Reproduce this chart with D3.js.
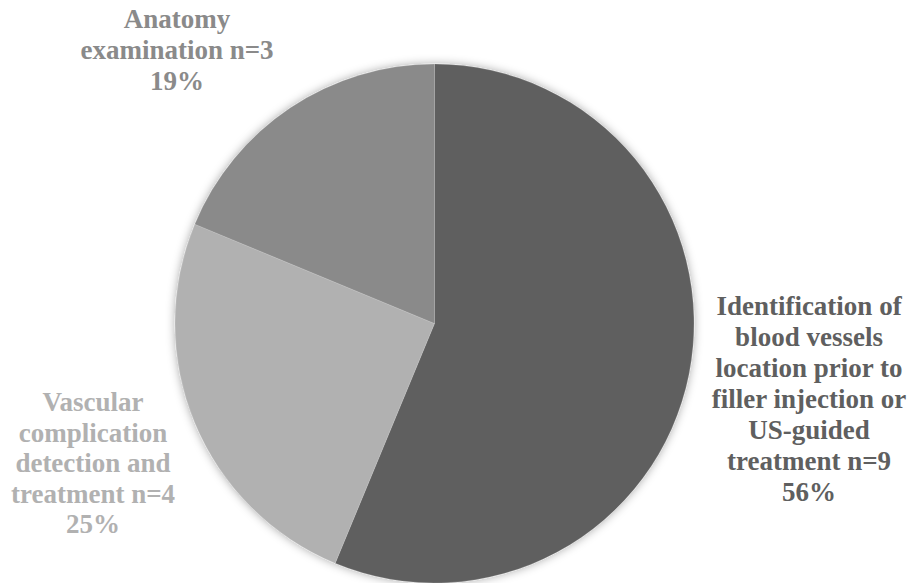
<!DOCTYPE html>
<html>
<head>
<meta charset="utf-8">
<script src="https://cdn.jsdelivr.net/npm/d3@7"></script>
<style>
  html, body { margin: 0; padding: 0; background: #ffffff; }
  svg { display: block; }
  .lbl { font-family: "Times New Roman", "Liberation Serif", Tinos, "DejaVu Serif", serif; font-weight: 700; }
</style>
</head>
<body>
<svg id="chart" width="909" height="583"></svg>
<script>
// Uses of ultrasound, counts per category
const categories = [
  "Identification of blood vessels location prior to filler injection or US-guided treatment",
  "Vascular complication detection and treatment",
  "Anatomy examination"
];
const counts = [9, 4, 3];
const percentLabels = ["56%", "25%", "19%"];
const labelLines = [
  ["Identification of", "blood vessels", "location prior to", "filler injection or", "US-guided", "treatment n=9", "56%"],
  ["Vascular", "complication", "detection and", "treatment n=4", "25%"],
  ["Anatomy", "examination n=3", "19%"]
];
const sliceColors = ["#5f5f5f", "#b1b1b1", "#8a8a8a"];

const width = 909, height = 583;
const cx = 434.5, cy = 323.5, radius = 259.5;

const svg = d3.select("#chart");

// soft glow round the pie
const defs = svg.append("defs");
const f = defs.append("filter").attr("id", "glow")
  .attr("x", "-20%").attr("y", "-20%").attr("width", "140%").attr("height", "140%");
f.append("feGaussianBlur").attr("in", "SourceAlpha").attr("stdDeviation", 5).attr("result", "b");
f.append("feFlood").attr("flood-color", "#000").attr("flood-opacity", 0.35).attr("result", "c");
f.append("feComposite").attr("in", "c").attr("in2", "b").attr("operator", "in").attr("result", "s");
const m = f.append("feMerge");
m.append("feMergeNode").attr("in", "s");
m.append("feMergeNode").attr("in", "SourceGraphic");

const data = categories.map((c, i) => ({ category: c, value: counts[i], color: sliceColors[i], lines: labelLines[i] }));

const pie = d3.pie().value(d => d.value).sort(null);
const arc = d3.arc().innerRadius(0).outerRadius(radius);
const arcs = pie(data);

const g = svg.append("g").attr("transform", `translate(${cx},${cy})`);
g.append("g").attr("filter", "url(#glow)")
  .selectAll("path")
  .data(arcs)
  .join("path")
  .attr("d", arc)
  .attr("fill", d => d.data.color)
  .attr("stroke", "#ffffff")
  .attr("stroke-opacity", 0.25)
  .attr("stroke-width", 0.6);

// label anchor points (centre x, first baseline y)
const labelPos = [
  { x: 809, y: 315 },
  { x: 93, y: 411 },
  { x: 177, y: 28 }
];
const lineGap = 31;

svg.append("g")
  .selectAll("text")
  .data(data)
  .join("text")
  .attr("class", "lbl")
  .attr("text-anchor", "middle")
  .attr("font-size", 27)
  .attr("fill", d => d.color)
  .each(function (d, i) {
    const t = d3.select(this);
    d.lines.forEach((ln, k) => {
      t.append("tspan")
        .attr("x", labelPos[i].x)
        .attr("y", labelPos[i].y + k * (i === 1 ? 30.5 : lineGap))
        .text(ln);
    });
  });
</script>
</body>
</html>
